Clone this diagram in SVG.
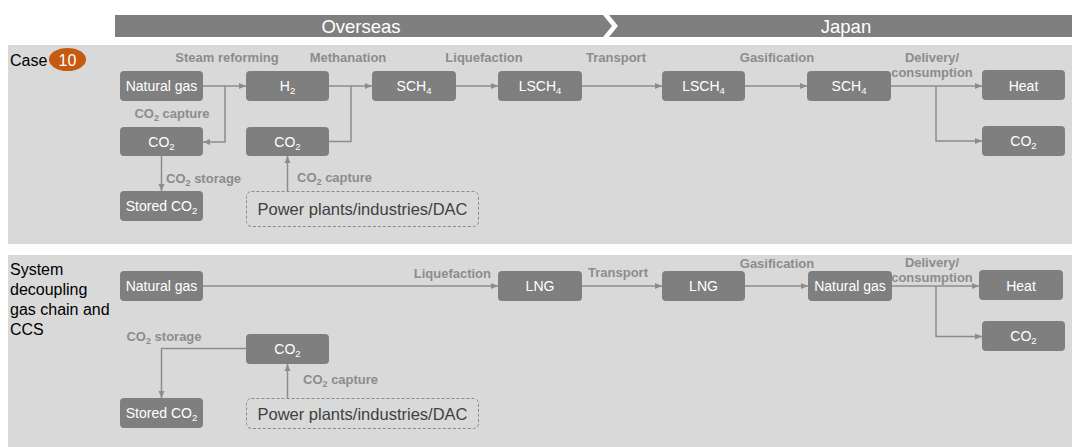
<svg xmlns="http://www.w3.org/2000/svg" width="1072" height="447" viewBox="0 0 1072 447">
<style>
.panel{fill:#d9d9d9}
.bar{fill:#7f7f7f}
.box{fill:#7f7f7f}
.dash{fill:none;stroke:#8a8a8a;stroke-width:1;stroke-dasharray:3 2}
.nt{font-family:"Liberation Sans",Arial,sans-serif;font-size:14px;fill:#ffffff;text-anchor:middle}
.hd{font-family:"Liberation Sans",Arial,sans-serif;font-size:18.5px;fill:#ffffff;text-anchor:middle}
.lb{font-family:"Liberation Sans",Arial,sans-serif;font-size:13px;font-weight:bold;fill:#8c8c8c}
.side{font-family:"Liberation Sans",Arial,sans-serif;font-size:16px;fill:#000000}
.pp{font-family:"Liberation Sans",Arial,sans-serif;font-size:16.5px;fill:#404040;text-anchor:middle}
.c{fill:none;stroke:#8c8c8c;stroke-width:1.5}
</style>
<defs>
<marker id="ah" markerUnits="userSpaceOnUse" markerWidth="8" markerHeight="8" refX="7" refY="4" orient="auto">
<path d="M0,1 L7,4 L0,7 Z" fill="#8c8c8c"/>
</marker>
</defs>
<rect width="1072" height="447" fill="#ffffff"/>
<g id="header">
<polygon class="bar" points="115,15 603,15 612,26 603,37 115,37"/>
<polygon class="bar" points="609,15 1072,15 1072,37 609,37 618,26"/>
<text class="hd" x="361" y="32.5">Overseas</text>
<text class="hd" x="846" y="32.5">Japan</text>
</g>
<rect class="panel" x="8" y="45" width="1064" height="199"/>
<rect class="panel" x="8" y="255" width="1064" height="192"/>
<g id="case-label">
<text class="side" x="10" y="66">Case</text>
<ellipse cx="67.5" cy="59.5" rx="18.5" ry="11.5" fill="#c55a11"/>
<text x="67.5" y="65.5" font-family="Liberation Sans, Arial, sans-serif" font-size="16" fill="#ffffff" text-anchor="middle">10</text>
</g>
<g id="system-label">
<text class="side" x="10" y="275">System</text>
<text class="side" x="10" y="295">decoupling</text>
<text class="side" x="10" y="315">gas chain and</text>
<text class="side" x="10" y="335">CCS</text>
</g>
<g id="connectors">
<path class="c" d="M203,86 H246" marker-end="url(#ah)"/>
<path class="c" d="M225,86 V142 H203" marker-end="url(#ah)"/>
<path class="c" d="M329,86 H372" marker-end="url(#ah)"/>
<path class="c" d="M329,141.5 H351 V86"/>
<path class="c" d="M456,86 H498" marker-end="url(#ah)"/>
<path class="c" d="M582,86 H662" marker-end="url(#ah)"/>
<path class="c" d="M745,86 H807" marker-end="url(#ah)"/>
<path class="c" d="M891,86 H982" marker-end="url(#ah)"/>
<path class="c" d="M936,86 V141 H982" marker-end="url(#ah)"/>
<path class="c" d="M161.5,156 V191" marker-end="url(#ah)"/>
<path class="c" d="M287.5,191 V156" marker-end="url(#ah)"/>
<path class="c" d="M203,286 H498" marker-end="url(#ah)"/>
<path class="c" d="M582,286 H662" marker-end="url(#ah)"/>
<path class="c" d="M745,286 H808" marker-end="url(#ah)"/>
<path class="c" d="M892,286 H979" marker-end="url(#ah)"/>
<path class="c" d="M936,286 V336.5 H982" marker-end="url(#ah)"/>
<path class="c" d="M246,348.5 H161.5 V398" marker-end="url(#ah)"/>
<path class="c" d="M287.5,398 V364" marker-end="url(#ah)"/>
</g>
<g id="labels">
<text class="lb" x="227" y="62" text-anchor="middle">Steam reforming</text>
<text class="lb" x="348" y="62" text-anchor="middle">Methanation</text>
<text class="lb" x="484" y="62" text-anchor="middle">Liquefaction</text>
<text class="lb" x="616" y="62" text-anchor="middle">Transport</text>
<text class="lb" x="777" y="62" text-anchor="middle">Gasification</text>
<text class="lb" x="932" y="62" text-anchor="middle">Delivery/</text>
<text class="lb" x="932" y="77" text-anchor="middle">consumption</text>
<text class="lb" x="172" y="118" text-anchor="middle">CO<tspan font-size="9" dy="3">2</tspan><tspan dy="-3"> capture</tspan></text>
<text class="lb" x="166" y="183">CO<tspan font-size="9" dy="3">2</tspan><tspan dy="-3"> storage</tspan></text>
<text class="lb" x="297" y="182">CO<tspan font-size="9" dy="3">2</tspan><tspan dy="-3"> capture</tspan></text>
<text class="lb" x="491" y="278" text-anchor="end">Liquefaction</text>
<text class="lb" x="618" y="277" text-anchor="middle">Transport</text>
<text class="lb" x="777" y="268" text-anchor="middle">Gasification</text>
<text class="lb" x="932" y="267" text-anchor="middle">Delivery/</text>
<text class="lb" x="932" y="282" text-anchor="middle">consumption</text>
<text class="lb" x="164" y="341" text-anchor="middle">CO<tspan font-size="9" dy="3">2</tspan><tspan dy="-3"> storage</tspan></text>
<text class="lb" x="303" y="384">CO<tspan font-size="9" dy="3">2</tspan><tspan dy="-3"> capture</tspan></text>
</g>
<g id="n1-natgas"><rect class="box" x="120" y="71" width="83" height="30" rx="4"/><text class="nt" x="161.5" y="91">Natural gas</text></g>
<g id="n1-h2"><rect class="box" x="246" y="71" width="83" height="30" rx="4"/><text class="nt" x="287.5" y="91">H<tspan font-size="9.5" dy="3">2</tspan></text></g>
<g id="n1-co2a"><rect class="box" x="120" y="127" width="83" height="29" rx="4"/><text class="nt" x="161.5" y="147">CO<tspan font-size="9.5" dy="3">2</tspan></text></g>
<g id="n1-co2b"><rect class="box" x="246" y="127" width="83" height="29" rx="4"/><text class="nt" x="287.5" y="147">CO<tspan font-size="9.5" dy="3">2</tspan></text></g>
<g id="n1-stored"><rect class="box" x="120" y="191" width="83" height="30" rx="4"/><text class="nt" x="161.5" y="211">Stored CO<tspan font-size="9.5" dy="3">2</tspan></text></g>
<g id="n1-power"><rect class="dash" x="246.5" y="191.5" width="232" height="35" rx="5"/><text class="pp" x="362.5" y="215">Power plants/industries/DAC</text></g>
<g id="n1-sch4"><rect class="box" x="372" y="71" width="84" height="30" rx="4"/><text class="nt" x="414" y="91">SCH<tspan font-size="9.5" dy="3">4</tspan></text></g>
<g id="n1-lsch4a"><rect class="box" x="498" y="71" width="84" height="30" rx="4"/><text class="nt" x="540" y="91">LSCH<tspan font-size="9.5" dy="3">4</tspan></text></g>
<g id="n1-lsch4b"><rect class="box" x="662" y="71" width="83" height="30" rx="4"/><text class="nt" x="703.5" y="91">LSCH<tspan font-size="9.5" dy="3">4</tspan></text></g>
<g id="n1-sch4b"><rect class="box" x="807" y="71" width="84" height="30" rx="4"/><text class="nt" x="849" y="91">SCH<tspan font-size="9.5" dy="3">4</tspan></text></g>
<g id="n1-heat"><rect class="box" x="982" y="70" width="83" height="30" rx="4"/><text class="nt" x="1023.5" y="90.5">Heat</text></g>
<g id="n1-co2c"><rect class="box" x="982" y="126" width="83" height="30" rx="4"/><text class="nt" x="1023.5" y="146">CO<tspan font-size="9.5" dy="3">2</tspan></text></g>
<g id="n2-natgas"><rect class="box" x="120" y="271" width="83" height="30" rx="4"/><text class="nt" x="161.5" y="291">Natural gas</text></g>
<g id="n2-lnga"><rect class="box" x="498" y="271" width="84" height="30" rx="4"/><text class="nt" x="540" y="291">LNG</text></g>
<g id="n2-lngb"><rect class="box" x="662" y="271" width="83" height="30" rx="4"/><text class="nt" x="703.5" y="291">LNG</text></g>
<g id="n2-natgasb"><rect class="box" x="808" y="271" width="84" height="30" rx="4"/><text class="nt" x="850" y="291">Natural gas</text></g>
<g id="n2-heat"><rect class="box" x="979" y="270" width="84" height="30" rx="4"/><text class="nt" x="1021" y="290.5">Heat</text></g>
<g id="n2-co2c"><rect class="box" x="982" y="321" width="83" height="30" rx="4"/><text class="nt" x="1023.5" y="341">CO<tspan font-size="9.5" dy="3">2</tspan></text></g>
<g id="n2-co2"><rect class="box" x="246" y="334" width="83" height="30" rx="4"/><text class="nt" x="287.5" y="354">CO<tspan font-size="9.5" dy="3">2</tspan></text></g>
<g id="n2-stored"><rect class="box" x="120" y="398" width="83" height="30" rx="4"/><text class="nt" x="161.5" y="418">Stored CO<tspan font-size="9.5" dy="3">2</tspan></text></g>
<g id="n2-power"><rect class="dash" x="246.5" y="398.5" width="232" height="30" rx="5"/><text class="pp" x="362.5" y="419.5">Power plants/industries/DAC</text></g>
</svg>
